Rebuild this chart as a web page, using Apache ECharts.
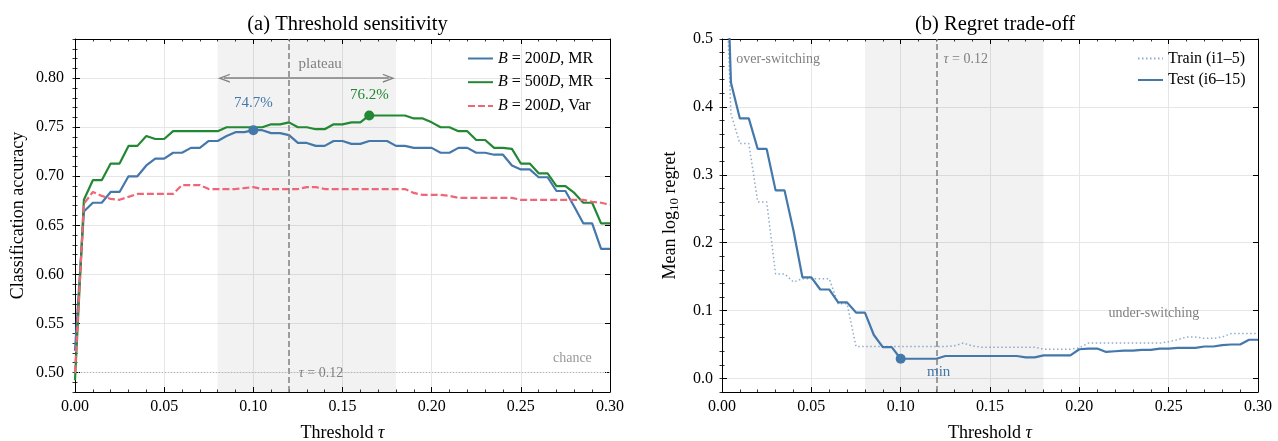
<!DOCTYPE html>
<html>
<head>
<meta charset="utf-8">
<title>Threshold sensitivity / Regret trade-off</title>
<script src="https://cdn.jsdelivr.net/npm/echarts@6.0.0/dist/echarts.min.js"></script>
<style>
  html, body { margin: 0; padding: 0; background: #fff; }
  #chart { width: 1278px; height: 441px; }
</style>
</head>
<body>
<div id="chart"></div>
<script>
// threshold grid (x values shared by every curve)
const tau = [0, 0.005, 0.01, 0.015, 0.02, 0.025, 0.03, 0.035, 0.04, 0.045,
  0.05, 0.055, 0.06, 0.065, 0.07, 0.075, 0.08, 0.085, 0.09, 0.095,
  0.1, 0.105, 0.11, 0.115, 0.12, 0.125, 0.13, 0.135, 0.14, 0.145,
  0.15, 0.155, 0.16, 0.165, 0.17, 0.175, 0.18, 0.185, 0.19, 0.195,
  0.2, 0.205, 0.21, 0.215, 0.22, 0.225, 0.23, 0.235, 0.24, 0.245,
  0.25, 0.255, 0.26, 0.265, 0.27, 0.275, 0.28, 0.285, 0.29, 0.295, 0.3];

// (a) classification accuracy
const accMR200 = [0.522, 0.664, 0.673, 0.673, 0.684, 0.684, 0.700, 0.700, 0.711, 0.718,
  0.718, 0.724, 0.724, 0.729, 0.729, 0.736, 0.736, 0.741, 0.745, 0.745,
  0.747, 0.747, 0.744, 0.744, 0.742, 0.734, 0.734, 0.731, 0.731, 0.736,
  0.736, 0.733, 0.733, 0.736, 0.736, 0.736, 0.731, 0.731, 0.729, 0.729,
  0.729, 0.724, 0.724, 0.729, 0.729, 0.724, 0.724, 0.722, 0.722, 0.711,
  0.707, 0.707, 0.699, 0.699, 0.685, 0.685, 0.669, 0.652, 0.652, 0.626, 0.626];
const accMR500 = [0.492, 0.676, 0.696, 0.696, 0.713, 0.713, 0.731, 0.731, 0.741, 0.738,
  0.738, 0.746, 0.746, 0.746, 0.746, 0.746, 0.746, 0.750, 0.750, 0.750,
  0.750, 0.750, 0.753, 0.753, 0.755, 0.750, 0.750, 0.748, 0.748, 0.753,
  0.753, 0.755, 0.755, 0.762, 0.762, 0.762, 0.762, 0.762, 0.759, 0.759,
  0.755, 0.750, 0.750, 0.746, 0.746, 0.737, 0.737, 0.729, 0.729, 0.728,
  0.713, 0.713, 0.703, 0.703, 0.690, 0.690, 0.683, 0.673, 0.673, 0.652, 0.652];
const accVar200 = [0.500, 0.672, 0.684, 0.680, 0.677, 0.676, 0.679, 0.682, 0.682, 0.682,
  0.682, 0.682, 0.691, 0.691, 0.691, 0.687, 0.687, 0.687, 0.687, 0.688,
  0.689, 0.687, 0.687, 0.687, 0.687, 0.687, 0.689, 0.689, 0.687, 0.687,
  0.687, 0.687, 0.687, 0.687, 0.687, 0.687, 0.687, 0.687, 0.683, 0.681,
  0.681, 0.681, 0.680, 0.678, 0.678, 0.678, 0.678, 0.678, 0.678, 0.678,
  0.676, 0.676, 0.676, 0.676, 0.676, 0.676, 0.676, 0.676, 0.674, 0.673, 0.671];

// (b) mean log10 regret
const regretTrain = [0.75, 0.39, 0.346, 0.346, 0.26, 0.26, 0.154, 0.154, 0.142, 0.147,
  0.147, 0.147, 0.147, 0.110, 0.110, 0.047, 0.047, 0.047, 0.047, 0.047,
  0.047, 0.047, 0.047, 0.047, 0.047, 0.047, 0.048, 0.052, 0.048, 0.046,
  0.046, 0.046, 0.046, 0.046, 0.046, 0.046, 0.043, 0.043, 0.043, 0.043,
  0.045, 0.052, 0.052, 0.052, 0.052, 0.052, 0.052, 0.052, 0.052, 0.052,
  0.054, 0.057, 0.061, 0.061, 0.059, 0.059, 0.061, 0.066, 0.066, 0.066, 0.066];
const regretTest = [0.85, 0.436, 0.383, 0.383, 0.338, 0.338, 0.277, 0.277, 0.218, 0.149,
  0.149, 0.131, 0.131, 0.112, 0.112, 0.097, 0.097, 0.064, 0.046, 0.046,
  0.029, 0.029, 0.029, 0.029, 0.029, 0.033, 0.033, 0.033, 0.033, 0.033,
  0.033, 0.033, 0.033, 0.033, 0.031, 0.031, 0.034, 0.034, 0.034, 0.034,
  0.043, 0.044, 0.044, 0.039, 0.040, 0.041, 0.041, 0.042, 0.042, 0.044,
  0.044, 0.045, 0.045, 0.045, 0.047, 0.047, 0.049, 0.050, 0.050, 0.057, 0.057];

// axis ranges
const tauRange = [0, 0.3];
const accRange = [0.48, 0.84];
const regretRange = [-0.02, 0.5];
const tauStar = 0.12;
const plateau = [0.08, 0.18];
const chance = 0.5;

const serif = '"Liberation Serif", "Times New Roman", "DejaVu Serif", serif';
const black = '#000';
const blue = '#4477AA', green = '#228833', red = '#EE6677', grey = '#808080';

function txt(size, color, extra) {
  return Object.assign({ fontFamily: serif, fontSize: size, color: color || black, fontWeight: 'normal' }, extra || {});
}
function rich(size, color) {
  return {
    i: txt(size, color, { fontStyle: 'italic' }),
    r: txt(size, color),
  };
}
function pairs(ys) {
  return tau.map((t, i) => [t, ys[i]]);
}

const tickLine = { color: black, width: 1 };

function xAxes(gridIndex) {
  const common = {
    type: 'value', gridIndex: gridIndex, min: tauRange[0], max: tauRange[1], interval: 0.05,
    axisLine: { show: true, onZero: false, lineStyle: { color: black, width: 1 } },
    axisTick: { show: true, inside: true, length: 5, lineStyle: tickLine },
    minorTick: { show: true, splitNumber: 5, length: 2.5, lineStyle: { color: black, width: 0.8 } }
  };
  return [
    Object.assign({}, common, {
      position: 'bottom',
      axisLabel: Object.assign({ show: true, margin: 7, formatter: v => v.toFixed(2) }, txt(16)),
      splitLine: { show: true, lineStyle: { color: '#e6e6e6', width: 1 } },
      name: 'Threshold {i|τ}', nameLocation: 'middle', nameGap: 32, nameMoveOverlap: false,
      nameTextStyle: Object.assign(txt(18), { rich: rich(18) })
    }),
    Object.assign({}, common, {
      position: 'top', axisLabel: { show: false }, splitLine: { show: false }
    })
  ];
}

function yAxes(gridIndex, range, step, minorStep, digits, name, nameGap, nameStyle, margin) {
  const major = {
    type: 'value', gridIndex: gridIndex, min: range[0], max: range[1],
    splitNumber: Math.round((range[1] - range[0]) / step), minInterval: step, maxInterval: step,
    axisLine: { show: true, onZero: false, lineStyle: { color: black, width: 1 } },
    axisTick: { show: true, inside: true, length: 5, lineStyle: tickLine },
    minorTick: { show: false }
  };
  const minor = {
    type: 'value', gridIndex: gridIndex, min: range[0], max: range[1], interval: minorStep,
    axisLine: { show: false },
    axisTick: { show: true, inside: true, length: 2.5, lineStyle: { color: black, width: 0.8 } },
    axisLabel: { show: false }, splitLine: { show: false }
  };
  return [
    Object.assign({}, major, {
      position: 'left',
      axisLabel: Object.assign({
        show: true, margin: margin,
        formatter: v => Math.abs(v / step - Math.round(v / step)) < 1e-6 ? v.toFixed(digits) : ''
      }, txt(16)),
      splitLine: { show: true, lineStyle: { color: '#e6e6e6', width: 1 } },
      name: name, nameLocation: 'middle', nameGap: nameGap, nameMoveOverlap: false,
      nameTextStyle: nameStyle
    }),
    Object.assign({}, major, { position: 'right', axisLabel: { show: false }, splitLine: { show: false } }),
    Object.assign({}, minor, { position: 'left' }),
    Object.assign({}, minor, { position: 'right' })
  ];
}

function note(text, x, y, size, color, align) {
  return {
    coord: [x, y], symbol: 'circle', symbolSize: 0, itemStyle: { color: 'rgba(0,0,0,0)' },
    label: Object.assign({
      show: true, position: 'inside', align: align || 'center', verticalAlign: 'middle',
      formatter: text, rich: rich(size, color)
    }, txt(size, color))
  };
}
function dot(x, y, color, text, offset) {
  return {
    coord: [x, y], symbol: 'circle', symbolSize: 10, itemStyle: { color: color },
    label: Object.assign({
      show: true, position: 'inside', align: 'center', verticalAlign: 'middle',
      formatter: text, offset: offset
    }, txt(15, color))
  };
}

const iBest200 = accMR200.indexOf(Math.max(...accMR200));
const iBest500 = accMR500.indexOf(Math.max(...accMR500));
const iMin = regretTest.indexOf(Math.min(...regretTest));

const chevron = 'path://M4.5,0 L9,12 L7.6,12 L4.5,3.7 L1.4,12 L0,12 Z';

const legendNames = {
  'B = 200D, MR': '{i|B} = 200{i|D}, MR',
  'B = 500D, MR': '{i|B} = 500{i|D}, MR',
  'B = 200D, Var': '{i|B} = 200{i|D}, Var'
};

function lineSeries(name, ys, xi, yi, color, width, type, opacity) {
  return {
    name: name, type: 'line', xAxisIndex: xi, yAxisIndex: yi, data: pairs(ys),
    symbol: 'none', showSymbol: false, clip: true, z: 3,
    lineStyle: { color: color, width: width, type: type, opacity: opacity },
    itemStyle: { color: color, opacity: opacity },
    emphasis: { disabled: true }
  };
}

const sMR200 = lineSeries('B = 200D, MR', accMR200, 0, 0, blue, 2.2, 'solid', 1);
sMR200.markArea = {
  silent: true, itemStyle: { color: 'rgba(0,0,0,0.05)' },
  data: [[{ xAxis: plateau[0] }, { xAxis: plateau[1] }]]
};
sMR200.markPoint = {
  silent: true,
  data: [dot(tau[iBest200], accMR200[iBest200], blue, (accMR200[iBest200] * 100).toFixed(1) + '%', [0, -27])]
};

const sMR500 = lineSeries('B = 500D, MR', accMR500, 0, 0, green, 2.2, 'solid', 1);
sMR500.markPoint = {
  silent: true,
  data: [dot(tau[iBest500], accMR500[iBest500], green, (accMR500[iBest500] * 100).toFixed(1) + '%', [0, -20])]
};
sMR500.markLine = {
  silent: true, symbol: [chevron, chevron], symbolSize: [9, 12],
  label: { show: false },
  lineStyle: { color: grey, width: 1.5, type: 'solid' },
  data: [[{ coord: [0.0835, 0.80] }, { coord: [0.176, 0.80] }]]
};

const sVar200 = lineSeries('B = 200D, Var', accVar200, 0, 0, red, 2.2, [7, 3], 1);
sVar200.markLine = {
  silent: true, symbol: 'none', label: { show: false },
  data: [
    { xAxis: tauStar, lineStyle: { color: grey, width: 1.5, type: [6, 3] } },
    { yAxis: chance, lineStyle: { color: '#b3b3b3', width: 1, type: [1, 2] } }
  ]
};
sVar200.markPoint = {
  silent: true,
  data: [
    note('plateau', 0.1375, 0.814, 15, grey),
    note('chance', 0.2898, 0.5143, 14, '#999999', 'right'),
    note('{i|τ} = 0.12', 0.1255, 0.4987, 14, grey, 'left')
  ]
};

const sTrain = lineSeries('Train (i1–5)', regretTrain, 2, 4, blue, 1.5, [1.5, 2.5], 0.6);
sTrain.markArea = {
  silent: true, itemStyle: { color: 'rgba(0,0,0,0.05)' },
  data: [[{ xAxis: plateau[0] }, { xAxis: plateau[1] }]]
};
sTrain.markLine = {
  silent: true, symbol: 'none', label: { show: false },
  data: [{ xAxis: tauStar, lineStyle: { color: grey, width: 1.5, type: [6, 3] } }]
};
sTrain.markPoint = {
  silent: true,
  data: [
    note('over-switching', 0.008, 0.47, 14, grey, 'left'),
    note('{i|τ} = 0.12', 0.124, 0.47, 14, grey, 'left'),
    note('under-switching', 0.2417, 0.0965, 14, grey)
  ]
};

const sTest = lineSeries('Test (i6–15)', regretTest, 2, 4, blue, 2.2, 'solid', 1);
sTest.markPoint = {
  silent: true,
  data: [dot(tau[iMin], regretTest[iMin], blue, 'min', [38, 13])]
};

const chart = echarts.init(document.getElementById('chart'), null, { renderer: 'canvas' });

chart.setOption({
  animation: false,
  backgroundColor: '#ffffff',
  title: [
    { text: '(a) Threshold sensitivity', left: 342.5, top: 9, textAlign: 'center', textStyle: txt(20.5) },
    { text: '(b) Regret trade-off', left: 990, top: 9, textAlign: 'center', textStyle: txt(20.5) }
  ],
  grid: [
    { left: 75, top: 39, width: 535, height: 353, outerBoundsMode: 'none', containLabel: false },
    { left: 722, top: 39, width: 536, height: 353, outerBoundsMode: 'none', containLabel: false }
  ],
  legend: [
    {
      data: Object.keys(legendNames), orient: 'vertical', left: 467, top: 50.5, padding: 0,
      itemWidth: 25, itemHeight: 16, itemGap: 7.7, selectedMode: false,
      itemStyle: { opacity: 0 },
      formatter: n => legendNames[n],
      textStyle: Object.assign(txt(16), { rich: rich(16) })
    },
    {
      data: ['Train (i1–5)', 'Test (i6–15)'], orient: 'vertical', left: 1137, top: 50.5, padding: 0,
      itemWidth: 25, itemHeight: 16, itemGap: 5.5, selectedMode: false,
      itemStyle: { opacity: 0 },
      textStyle: txt(16)
    }
  ],
  xAxis: xAxes(0).concat(xAxes(1)),
  yAxis: yAxes(0, accRange, 0.05, 0.01, 2, 'Classification accuracy', 48,
      txt(18), 11)
    .concat(yAxes(1, regretRange, 0.1, 0.02, 1, '{r|Mean log}{sub|10}{r| regret}', 41,
      Object.assign(txt(18), {
        rich: {
          r: txt(18, black, { lineHeight: 22 }),
          sub: txt(13, black, { lineHeight: 12, verticalAlign: 'bottom' })
        }
      }), 9)),
  series: [sMR200, sMR500, sVar200, sTrain, sTest]
});
</script>
</body>
</html>
